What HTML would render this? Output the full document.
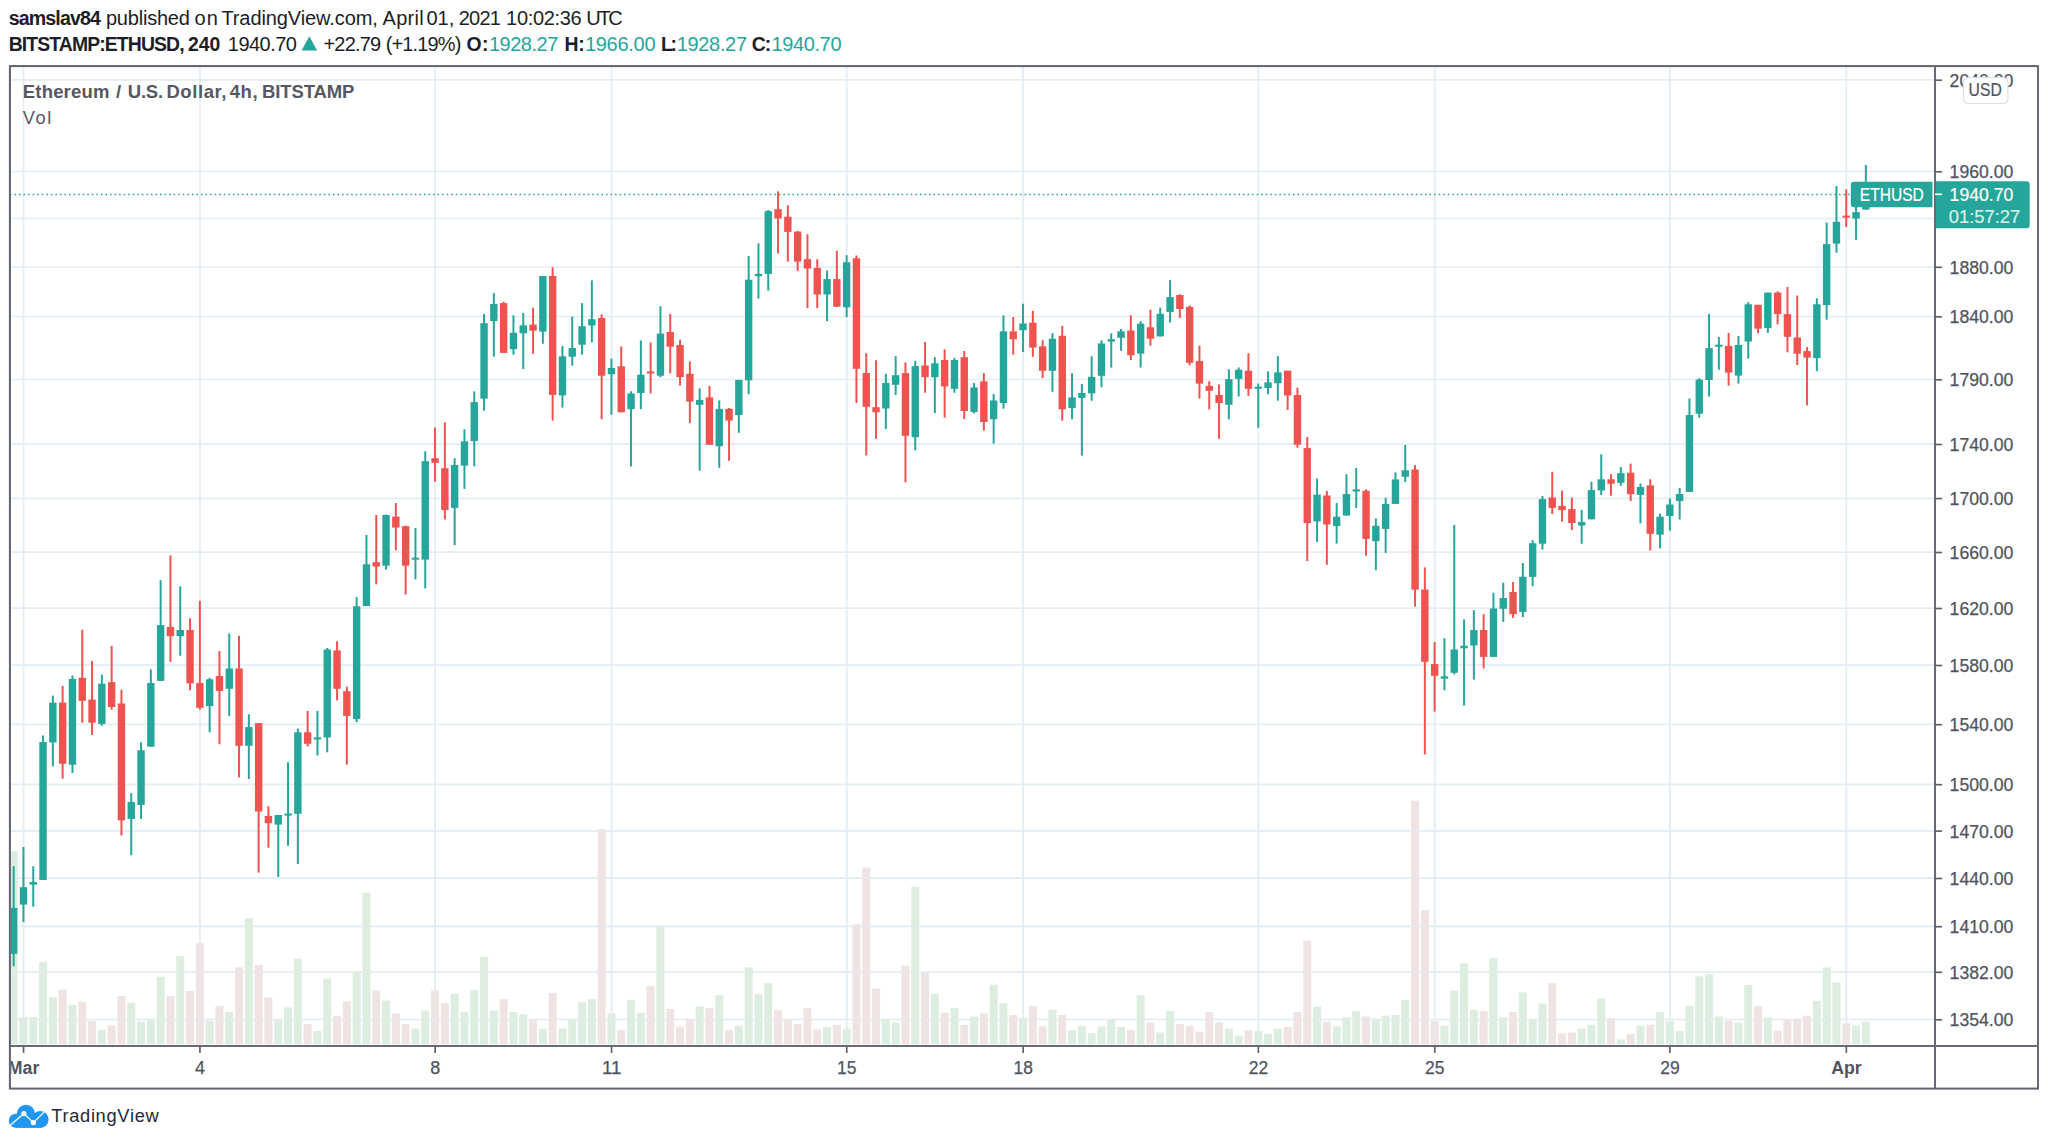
<!DOCTYPE html>
<html><head><meta charset="utf-8"><title>ETHUSD 4h chart</title>
<style>
html,body{margin:0;padding:0;background:#fff;}
body{width:2048px;height:1144px;position:relative;overflow:hidden;font-family:"Liberation Sans",sans-serif;}
</style></head><body>
<svg width="2048" height="1144" viewBox="0 0 2048 1144" font-family="Liberation Sans, sans-serif" style="position:absolute;left:0;top:0">
<defs><clipPath id="pane"><rect x="10.9" y="67.1" width="1923.1" height="977.9"/></clipPath><clipPath id="tclip"><rect x="10.9" y="1046.0" width="1925.1" height="42.59999999999991"/></clipPath></defs>
<g stroke="#e3edf3" stroke-width="1.7" clip-path="url(#pane)">
<line x1="9.9" x2="1935" y1="79.9" y2="79.9"/>
<line x1="9.9" x2="1935" y1="171.5" y2="171.5"/>
<line x1="9.9" x2="1935" y1="218.5" y2="218.5"/>
<line x1="9.9" x2="1935" y1="267" y2="267"/>
<line x1="9.9" x2="1935" y1="316.5" y2="316.5"/>
<line x1="9.9" x2="1935" y1="379.5" y2="379.5"/>
<line x1="9.9" x2="1935" y1="444.2" y2="444.2"/>
<line x1="9.9" x2="1935" y1="498.3" y2="498.3"/>
<line x1="9.9" x2="1935" y1="552.2" y2="552.2"/>
<line x1="9.9" x2="1935" y1="608.2" y2="608.2"/>
<line x1="9.9" x2="1935" y1="665.2" y2="665.2"/>
<line x1="9.9" x2="1935" y1="724.4" y2="724.4"/>
<line x1="9.9" x2="1935" y1="784.4" y2="784.4"/>
<line x1="9.9" x2="1935" y1="830.8" y2="830.8"/>
<line x1="9.9" x2="1935" y1="878.2" y2="878.2"/>
<line x1="9.9" x2="1935" y1="926.4" y2="926.4"/>
<line x1="9.9" x2="1935" y1="972" y2="972"/>
<line x1="9.9" x2="1935" y1="1019.5" y2="1019.5"/>
<line x1="23.55" x2="23.55" y1="66.1" y2="1046.0"/>
<line x1="199.95" x2="199.95" y1="66.1" y2="1046.0"/>
<line x1="435.15" x2="435.15" y1="66.1" y2="1046.0"/>
<line x1="611.55" x2="611.55" y1="66.1" y2="1046.0"/>
<line x1="846.75" x2="846.75" y1="66.1" y2="1046.0"/>
<line x1="1023.15" x2="1023.15" y1="66.1" y2="1046.0"/>
<line x1="1258.35" x2="1258.35" y1="66.1" y2="1046.0"/>
<line x1="1434.75" x2="1434.75" y1="66.1" y2="1046.0"/>
<line x1="1669.95" x2="1669.95" y1="66.1" y2="1046.0"/>
<line x1="1846.35" x2="1846.35" y1="66.1" y2="1046.0"/>
</g>
<g clip-path="url(#pane)">
<rect x="9.65" y="851.0" width="8" height="193.3" fill="#ddede0"/>
<rect x="19.45" y="1017.0" width="8" height="27.3" fill="#ddede0"/>
<rect x="29.25" y="1017.0" width="8" height="27.3" fill="#ddede0"/>
<rect x="39.05" y="961.7" width="8" height="82.6" fill="#ddede0"/>
<rect x="48.85" y="997.2" width="8" height="47.1" fill="#ddede0"/>
<rect x="58.65" y="989.9" width="8" height="54.4" fill="#f0e3e3"/>
<rect x="68.45" y="1004.8" width="8" height="39.5" fill="#ddede0"/>
<rect x="78.25" y="1001.8" width="8" height="42.5" fill="#f0e3e3"/>
<rect x="88.05" y="1021.1" width="8" height="23.2" fill="#f0e3e3"/>
<rect x="97.85" y="1029.9" width="8" height="14.4" fill="#ddede0"/>
<rect x="107.65" y="1025.3" width="8" height="19.0" fill="#f0e3e3"/>
<rect x="117.45" y="996.0" width="8" height="48.3" fill="#f0e3e3"/>
<rect x="127.25" y="1002.8" width="8" height="41.5" fill="#ddede0"/>
<rect x="137.05" y="1021.7" width="8" height="22.6" fill="#ddede0"/>
<rect x="146.85" y="1018.9" width="8" height="25.4" fill="#ddede0"/>
<rect x="156.65" y="976.7" width="8" height="67.6" fill="#ddede0"/>
<rect x="166.45" y="996.0" width="8" height="48.3" fill="#f0e3e3"/>
<rect x="176.25" y="956.1" width="8" height="88.2" fill="#ddede0"/>
<rect x="186.05" y="991.0" width="8" height="53.3" fill="#f0e3e3"/>
<rect x="195.85" y="942.8" width="8" height="101.5" fill="#f0e3e3"/>
<rect x="205.65" y="1020.7" width="8" height="23.6" fill="#ddede0"/>
<rect x="215.45" y="1005.9" width="8" height="38.4" fill="#f0e3e3"/>
<rect x="225.25" y="1012.0" width="8" height="32.3" fill="#ddede0"/>
<rect x="235.05" y="967.3" width="8" height="77.0" fill="#f0e3e3"/>
<rect x="244.85" y="918.4" width="8" height="125.9" fill="#ddede0"/>
<rect x="254.65" y="965.0" width="8" height="79.3" fill="#f0e3e3"/>
<rect x="264.45" y="997.5" width="8" height="46.8" fill="#f0e3e3"/>
<rect x="274.25" y="1019.5" width="8" height="24.8" fill="#ddede0"/>
<rect x="284.05" y="1007.5" width="8" height="36.8" fill="#ddede0"/>
<rect x="293.85" y="958.9" width="8" height="85.4" fill="#ddede0"/>
<rect x="303.65" y="1024.1" width="8" height="20.2" fill="#f0e3e3"/>
<rect x="313.45" y="1030.9" width="8" height="13.4" fill="#ddede0"/>
<rect x="323.25" y="978.6" width="8" height="65.7" fill="#ddede0"/>
<rect x="333.05" y="1015.7" width="8" height="28.6" fill="#f0e3e3"/>
<rect x="342.85" y="1001.4" width="8" height="42.9" fill="#f0e3e3"/>
<rect x="352.65" y="971.1" width="8" height="73.2" fill="#ddede0"/>
<rect x="362.45" y="892.7" width="8" height="151.6" fill="#ddede0"/>
<rect x="372.25" y="990.5" width="8" height="53.8" fill="#f0e3e3"/>
<rect x="382.05" y="1000.7" width="8" height="43.6" fill="#ddede0"/>
<rect x="391.85" y="1013.4" width="8" height="30.9" fill="#f0e3e3"/>
<rect x="401.65" y="1024.1" width="8" height="20.2" fill="#f0e3e3"/>
<rect x="411.45" y="1028.6" width="8" height="15.7" fill="#ddede0"/>
<rect x="421.25" y="1010.5" width="8" height="33.8" fill="#ddede0"/>
<rect x="431.05" y="990.5" width="8" height="53.8" fill="#f0e3e3"/>
<rect x="440.85" y="1003.0" width="8" height="41.3" fill="#f0e3e3"/>
<rect x="450.65" y="993.9" width="8" height="50.4" fill="#ddede0"/>
<rect x="460.45" y="1012.0" width="8" height="32.3" fill="#ddede0"/>
<rect x="470.25" y="990.0" width="8" height="54.3" fill="#ddede0"/>
<rect x="480.05" y="957.0" width="8" height="87.3" fill="#ddede0"/>
<rect x="489.85" y="1010.5" width="8" height="33.8" fill="#ddede0"/>
<rect x="499.65" y="999.1" width="8" height="45.2" fill="#f0e3e3"/>
<rect x="509.45" y="1012.0" width="8" height="32.3" fill="#ddede0"/>
<rect x="519.25" y="1014.3" width="8" height="30.0" fill="#ddede0"/>
<rect x="529.05" y="1020.0" width="8" height="24.3" fill="#f0e3e3"/>
<rect x="538.85" y="1028.6" width="8" height="15.7" fill="#ddede0"/>
<rect x="548.65" y="993.0" width="8" height="51.3" fill="#f0e3e3"/>
<rect x="558.45" y="1028.6" width="8" height="15.7" fill="#ddede0"/>
<rect x="568.25" y="1018.9" width="8" height="25.4" fill="#ddede0"/>
<rect x="578.05" y="1002.0" width="8" height="42.3" fill="#ddede0"/>
<rect x="587.85" y="999.1" width="8" height="45.2" fill="#ddede0"/>
<rect x="597.65" y="829.1" width="8" height="215.2" fill="#f0e3e3"/>
<rect x="607.45" y="1013.4" width="8" height="30.9" fill="#ddede0"/>
<rect x="617.25" y="1030.2" width="8" height="14.1" fill="#f0e3e3"/>
<rect x="627.05" y="999.8" width="8" height="44.5" fill="#ddede0"/>
<rect x="636.85" y="1012.7" width="8" height="31.6" fill="#ddede0"/>
<rect x="646.65" y="986.1" width="8" height="58.2" fill="#f0e3e3"/>
<rect x="656.45" y="925.7" width="8" height="118.6" fill="#ddede0"/>
<rect x="666.25" y="1008.9" width="8" height="35.4" fill="#f0e3e3"/>
<rect x="676.05" y="1026.4" width="8" height="17.9" fill="#f0e3e3"/>
<rect x="685.85" y="1018.9" width="8" height="25.4" fill="#f0e3e3"/>
<rect x="695.65" y="1006.6" width="8" height="37.7" fill="#ddede0"/>
<rect x="705.45" y="1008.2" width="8" height="36.1" fill="#f0e3e3"/>
<rect x="715.25" y="995.2" width="8" height="49.1" fill="#ddede0"/>
<rect x="725.05" y="1030.2" width="8" height="14.1" fill="#f0e3e3"/>
<rect x="734.85" y="1025.7" width="8" height="18.6" fill="#ddede0"/>
<rect x="744.65" y="967.3" width="8" height="77.0" fill="#ddede0"/>
<rect x="754.45" y="993.9" width="8" height="50.4" fill="#ddede0"/>
<rect x="764.25" y="983.2" width="8" height="61.1" fill="#ddede0"/>
<rect x="774.05" y="1009.8" width="8" height="34.5" fill="#f0e3e3"/>
<rect x="783.85" y="1020.0" width="8" height="24.3" fill="#f0e3e3"/>
<rect x="793.65" y="1024.1" width="8" height="20.2" fill="#f0e3e3"/>
<rect x="803.45" y="1008.2" width="8" height="36.1" fill="#f0e3e3"/>
<rect x="813.25" y="1029.3" width="8" height="15.0" fill="#f0e3e3"/>
<rect x="823.05" y="1027.0" width="8" height="17.3" fill="#ddede0"/>
<rect x="832.85" y="1024.8" width="8" height="19.5" fill="#f0e3e3"/>
<rect x="842.65" y="1028.6" width="8" height="15.7" fill="#ddede0"/>
<rect x="852.45" y="924.1" width="8" height="120.2" fill="#f0e3e3"/>
<rect x="862.25" y="867.7" width="8" height="176.6" fill="#f0e3e3"/>
<rect x="872.05" y="988.4" width="8" height="55.9" fill="#f0e3e3"/>
<rect x="881.85" y="1018.9" width="8" height="25.4" fill="#ddede0"/>
<rect x="891.65" y="1022.5" width="8" height="21.8" fill="#ddede0"/>
<rect x="901.45" y="965.7" width="8" height="78.6" fill="#f0e3e3"/>
<rect x="911.25" y="886.6" width="8" height="157.7" fill="#ddede0"/>
<rect x="921.05" y="973.0" width="8" height="71.3" fill="#f0e3e3"/>
<rect x="930.85" y="993.9" width="8" height="50.4" fill="#ddede0"/>
<rect x="940.65" y="1012.7" width="8" height="31.6" fill="#f0e3e3"/>
<rect x="950.45" y="1008.2" width="8" height="36.1" fill="#ddede0"/>
<rect x="960.25" y="1024.8" width="8" height="19.5" fill="#f0e3e3"/>
<rect x="970.05" y="1016.6" width="8" height="27.7" fill="#ddede0"/>
<rect x="979.85" y="1013.4" width="8" height="30.9" fill="#f0e3e3"/>
<rect x="989.65" y="984.8" width="8" height="59.5" fill="#ddede0"/>
<rect x="999.45" y="1003.0" width="8" height="41.3" fill="#ddede0"/>
<rect x="1009.25" y="1015.0" width="8" height="29.3" fill="#f0e3e3"/>
<rect x="1019.05" y="1018.0" width="8" height="26.3" fill="#ddede0"/>
<rect x="1028.85" y="1005.9" width="8" height="38.4" fill="#f0e3e3"/>
<rect x="1038.65" y="1026.4" width="8" height="17.9" fill="#f0e3e3"/>
<rect x="1048.45" y="1009.8" width="8" height="34.5" fill="#ddede0"/>
<rect x="1058.25" y="1015.0" width="8" height="29.3" fill="#f0e3e3"/>
<rect x="1068.05" y="1030.2" width="8" height="14.1" fill="#ddede0"/>
<rect x="1077.85" y="1025.7" width="8" height="18.6" fill="#ddede0"/>
<rect x="1087.65" y="1033.2" width="8" height="11.1" fill="#ddede0"/>
<rect x="1097.45" y="1026.4" width="8" height="17.9" fill="#ddede0"/>
<rect x="1107.25" y="1019.5" width="8" height="24.8" fill="#ddede0"/>
<rect x="1117.05" y="1027.0" width="8" height="17.3" fill="#ddede0"/>
<rect x="1126.85" y="1030.2" width="8" height="14.1" fill="#f0e3e3"/>
<rect x="1136.65" y="995.2" width="8" height="49.1" fill="#ddede0"/>
<rect x="1146.45" y="1022.5" width="8" height="21.8" fill="#f0e3e3"/>
<rect x="1156.25" y="1032.5" width="8" height="11.8" fill="#ddede0"/>
<rect x="1166.05" y="1011.1" width="8" height="33.2" fill="#ddede0"/>
<rect x="1175.85" y="1024.1" width="8" height="20.2" fill="#f0e3e3"/>
<rect x="1185.65" y="1025.7" width="8" height="18.6" fill="#f0e3e3"/>
<rect x="1195.45" y="1031.6" width="8" height="12.7" fill="#f0e3e3"/>
<rect x="1205.25" y="1012.0" width="8" height="32.3" fill="#f0e3e3"/>
<rect x="1215.05" y="1022.5" width="8" height="21.8" fill="#f0e3e3"/>
<rect x="1224.85" y="1028.6" width="8" height="15.7" fill="#ddede0"/>
<rect x="1234.65" y="1035.5" width="8" height="8.8" fill="#ddede0"/>
<rect x="1244.45" y="1030.2" width="8" height="14.1" fill="#f0e3e3"/>
<rect x="1254.25" y="1030.9" width="8" height="13.4" fill="#ddede0"/>
<rect x="1264.05" y="1033.9" width="8" height="10.4" fill="#ddede0"/>
<rect x="1273.85" y="1028.6" width="8" height="15.7" fill="#ddede0"/>
<rect x="1283.65" y="1027.0" width="8" height="17.3" fill="#f0e3e3"/>
<rect x="1293.45" y="1012.0" width="8" height="32.3" fill="#f0e3e3"/>
<rect x="1303.25" y="940.5" width="8" height="103.8" fill="#f0e3e3"/>
<rect x="1313.05" y="1006.6" width="8" height="37.7" fill="#ddede0"/>
<rect x="1322.85" y="1021.8" width="8" height="22.5" fill="#f0e3e3"/>
<rect x="1332.65" y="1026.4" width="8" height="17.9" fill="#ddede0"/>
<rect x="1342.45" y="1017.3" width="8" height="27.0" fill="#ddede0"/>
<rect x="1352.25" y="1011.1" width="8" height="33.2" fill="#ddede0"/>
<rect x="1362.05" y="1016.6" width="8" height="27.7" fill="#f0e3e3"/>
<rect x="1371.85" y="1018.9" width="8" height="25.4" fill="#ddede0"/>
<rect x="1381.65" y="1015.7" width="8" height="28.6" fill="#ddede0"/>
<rect x="1391.45" y="1015.0" width="8" height="29.3" fill="#ddede0"/>
<rect x="1401.25" y="999.8" width="8" height="44.5" fill="#ddede0"/>
<rect x="1411.05" y="800.7" width="8" height="243.6" fill="#f0e3e3"/>
<rect x="1420.85" y="910.0" width="8" height="134.3" fill="#f0e3e3"/>
<rect x="1430.65" y="1021.1" width="8" height="23.2" fill="#f0e3e3"/>
<rect x="1440.45" y="1025.7" width="8" height="18.6" fill="#ddede0"/>
<rect x="1450.25" y="990.7" width="8" height="53.6" fill="#ddede0"/>
<rect x="1460.05" y="963.4" width="8" height="80.9" fill="#ddede0"/>
<rect x="1469.85" y="1009.8" width="8" height="34.5" fill="#ddede0"/>
<rect x="1479.65" y="1011.1" width="8" height="33.2" fill="#f0e3e3"/>
<rect x="1489.45" y="958.2" width="8" height="86.1" fill="#ddede0"/>
<rect x="1499.25" y="1017.3" width="8" height="27.0" fill="#ddede0"/>
<rect x="1509.05" y="1012.0" width="8" height="32.3" fill="#f0e3e3"/>
<rect x="1518.85" y="992.3" width="8" height="52.0" fill="#ddede0"/>
<rect x="1528.65" y="1019.5" width="8" height="24.8" fill="#ddede0"/>
<rect x="1538.45" y="1003.6" width="8" height="40.7" fill="#ddede0"/>
<rect x="1548.25" y="983.2" width="8" height="61.1" fill="#f0e3e3"/>
<rect x="1558.05" y="1033.2" width="8" height="11.1" fill="#f0e3e3"/>
<rect x="1567.85" y="1032.5" width="8" height="11.8" fill="#f0e3e3"/>
<rect x="1577.65" y="1028.6" width="8" height="15.7" fill="#ddede0"/>
<rect x="1587.45" y="1024.8" width="8" height="19.5" fill="#ddede0"/>
<rect x="1597.25" y="998.4" width="8" height="45.9" fill="#ddede0"/>
<rect x="1607.05" y="1018.0" width="8" height="26.3" fill="#f0e3e3"/>
<rect x="1616.85" y="1039.3" width="8" height="5.0" fill="#ddede0"/>
<rect x="1626.65" y="1033.9" width="8" height="10.4" fill="#f0e3e3"/>
<rect x="1636.45" y="1025.7" width="8" height="18.6" fill="#ddede0"/>
<rect x="1646.25" y="1024.8" width="8" height="19.5" fill="#f0e3e3"/>
<rect x="1656.05" y="1012.0" width="8" height="32.3" fill="#ddede0"/>
<rect x="1665.85" y="1021.1" width="8" height="23.2" fill="#ddede0"/>
<rect x="1675.65" y="1030.9" width="8" height="13.4" fill="#ddede0"/>
<rect x="1685.45" y="1005.9" width="8" height="38.4" fill="#ddede0"/>
<rect x="1695.25" y="976.4" width="8" height="67.9" fill="#ddede0"/>
<rect x="1705.05" y="974.1" width="8" height="70.2" fill="#ddede0"/>
<rect x="1714.85" y="1016.6" width="8" height="27.7" fill="#ddede0"/>
<rect x="1724.65" y="1020.7" width="8" height="23.6" fill="#f0e3e3"/>
<rect x="1734.45" y="1022.5" width="8" height="21.8" fill="#ddede0"/>
<rect x="1744.25" y="985.0" width="8" height="59.3" fill="#ddede0"/>
<rect x="1754.05" y="1005.9" width="8" height="38.4" fill="#f0e3e3"/>
<rect x="1763.85" y="1017.3" width="8" height="27.0" fill="#ddede0"/>
<rect x="1773.65" y="1030.9" width="8" height="13.4" fill="#f0e3e3"/>
<rect x="1783.45" y="1020.0" width="8" height="24.3" fill="#f0e3e3"/>
<rect x="1793.25" y="1018.9" width="8" height="25.4" fill="#f0e3e3"/>
<rect x="1803.05" y="1015.7" width="8" height="28.6" fill="#f0e3e3"/>
<rect x="1812.85" y="1000.7" width="8" height="43.6" fill="#ddede0"/>
<rect x="1822.65" y="967.3" width="8" height="77.0" fill="#ddede0"/>
<rect x="1832.45" y="982.5" width="8" height="61.8" fill="#ddede0"/>
<rect x="1842.25" y="1023.4" width="8" height="20.9" fill="#f0e3e3"/>
<rect x="1852.05" y="1025.7" width="8" height="18.6" fill="#ddede0"/>
<rect x="1861.85" y="1021.8" width="8" height="22.5" fill="#ddede0"/>
</g>
<g stroke="#e3edf3" stroke-width="1.7" clip-path="url(#pane)" opacity="0.45">
<line x1="9.9" x2="1935" y1="830.8" y2="830.8"/>
<line x1="9.9" x2="1935" y1="878.2" y2="878.2"/>
<line x1="9.9" x2="1935" y1="926.4" y2="926.4"/>
<line x1="9.9" x2="1935" y1="972" y2="972"/>
<line x1="9.9" x2="1935" y1="1019.5" y2="1019.5"/>
<line x1="23.55" x2="23.55" y1="790" y2="1046.0"/>
<line x1="199.95" x2="199.95" y1="790" y2="1046.0"/>
<line x1="435.15" x2="435.15" y1="790" y2="1046.0"/>
<line x1="611.55" x2="611.55" y1="790" y2="1046.0"/>
<line x1="846.75" x2="846.75" y1="790" y2="1046.0"/>
<line x1="1023.15" x2="1023.15" y1="790" y2="1046.0"/>
<line x1="1258.35" x2="1258.35" y1="790" y2="1046.0"/>
<line x1="1434.75" x2="1434.75" y1="790" y2="1046.0"/>
<line x1="1669.95" x2="1669.95" y1="790" y2="1046.0"/>
<line x1="1846.35" x2="1846.35" y1="790" y2="1046.0"/>
</g>
<line x1="9.9" x2="1935" y1="194.5" y2="194.5" stroke="#26a69a" stroke-width="1.6" stroke-dasharray="1.55 3.0" clip-path="url(#pane)"/>
<g clip-path="url(#pane)">
<rect x="12.65" y="866.2" width="2" height="100.0" fill="#26a69a"/>
<rect x="9.95" y="907.9" width="7.4" height="45.9" fill="#26a69a"/>
<rect x="22.45" y="847.0" width="2" height="75.0" fill="#26a69a"/>
<rect x="19.75" y="887.2" width="7.4" height="17.4" fill="#26a69a"/>
<rect x="32.25" y="866.2" width="2" height="40.4" fill="#26a69a"/>
<rect x="29.55" y="882.0" width="7.4" height="2.6" fill="#26a69a"/>
<rect x="42.05" y="735.5" width="2" height="144.5" fill="#26a69a"/>
<rect x="39.35" y="742.0" width="7.4" height="138.0" fill="#26a69a"/>
<rect x="51.85" y="695.6" width="2" height="70.8" fill="#26a69a"/>
<rect x="49.15" y="702.6" width="7.4" height="39.9" fill="#26a69a"/>
<rect x="61.65" y="686.0" width="2" height="92.7" fill="#ef5350"/>
<rect x="58.95" y="702.6" width="7.4" height="61.2" fill="#ef5350"/>
<rect x="71.45" y="675.5" width="2" height="97.5" fill="#26a69a"/>
<rect x="68.75" y="679.0" width="7.4" height="85.7" fill="#26a69a"/>
<rect x="81.25" y="629.7" width="2" height="93.0" fill="#ef5350"/>
<rect x="78.55" y="677.8" width="7.4" height="23.0" fill="#ef5350"/>
<rect x="91.05" y="661.0" width="2" height="74.0" fill="#ef5350"/>
<rect x="88.35" y="699.6" width="7.4" height="23.1" fill="#ef5350"/>
<rect x="100.85" y="674.6" width="2" height="51.1" fill="#26a69a"/>
<rect x="98.15" y="683.7" width="7.4" height="40.2" fill="#26a69a"/>
<rect x="110.65" y="645.8" width="2" height="63.8" fill="#ef5350"/>
<rect x="107.95" y="682.1" width="7.4" height="24.9" fill="#ef5350"/>
<rect x="120.45" y="689.8" width="2" height="145.7" fill="#ef5350"/>
<rect x="117.75" y="703.5" width="7.4" height="116.8" fill="#ef5350"/>
<rect x="130.25" y="793.2" width="2" height="62.0" fill="#26a69a"/>
<rect x="127.55" y="801.9" width="7.4" height="17.0" fill="#26a69a"/>
<rect x="140.05" y="742.3" width="2" height="76.6" fill="#26a69a"/>
<rect x="137.35" y="750.3" width="7.4" height="54.6" fill="#26a69a"/>
<rect x="149.85" y="669.4" width="2" height="77.3" fill="#26a69a"/>
<rect x="147.15" y="683.0" width="7.4" height="63.7" fill="#26a69a"/>
<rect x="159.65" y="580.2" width="2" height="100.7" fill="#26a69a"/>
<rect x="156.95" y="625.1" width="7.4" height="55.8" fill="#26a69a"/>
<rect x="169.45" y="555.4" width="2" height="106.6" fill="#ef5350"/>
<rect x="166.75" y="626.9" width="7.4" height="9.3" fill="#ef5350"/>
<rect x="179.25" y="586.3" width="2" height="69.4" fill="#26a69a"/>
<rect x="176.55" y="630.0" width="7.4" height="6.2" fill="#26a69a"/>
<rect x="189.05" y="618.3" width="2" height="72.0" fill="#ef5350"/>
<rect x="186.35" y="630.0" width="7.4" height="53.4" fill="#ef5350"/>
<rect x="198.85" y="600.8" width="2" height="108.8" fill="#ef5350"/>
<rect x="196.15" y="683.0" width="7.4" height="24.8" fill="#ef5350"/>
<rect x="208.65" y="677.8" width="2" height="54.5" fill="#26a69a"/>
<rect x="205.95" y="679.3" width="7.4" height="26.8" fill="#26a69a"/>
<rect x="218.45" y="651.0" width="2" height="93.2" fill="#ef5350"/>
<rect x="215.75" y="676.0" width="7.4" height="14.9" fill="#ef5350"/>
<rect x="228.25" y="633.5" width="2" height="82.5" fill="#26a69a"/>
<rect x="225.55" y="668.5" width="7.4" height="20.3" fill="#26a69a"/>
<rect x="238.05" y="635.8" width="2" height="141.6" fill="#ef5350"/>
<rect x="235.35" y="668.5" width="7.4" height="77.3" fill="#ef5350"/>
<rect x="247.85" y="714.3" width="2" height="64.7" fill="#26a69a"/>
<rect x="245.15" y="727.1" width="7.4" height="18.7" fill="#26a69a"/>
<rect x="257.65" y="723.1" width="2" height="149.5" fill="#ef5350"/>
<rect x="254.95" y="723.1" width="7.4" height="88.4" fill="#ef5350"/>
<rect x="267.45" y="806.2" width="2" height="41.4" fill="#ef5350"/>
<rect x="264.75" y="815.9" width="7.4" height="7.3" fill="#ef5350"/>
<rect x="277.25" y="815.0" width="2" height="62.0" fill="#26a69a"/>
<rect x="274.55" y="815.0" width="7.4" height="9.6" fill="#26a69a"/>
<rect x="287.05" y="762.1" width="2" height="83.7" fill="#26a69a"/>
<rect x="284.35" y="813.5" width="7.4" height="2.1" fill="#26a69a"/>
<rect x="296.85" y="728.6" width="2" height="135.5" fill="#26a69a"/>
<rect x="294.15" y="732.3" width="7.4" height="81.5" fill="#26a69a"/>
<rect x="306.65" y="711.0" width="2" height="35.5" fill="#ef5350"/>
<rect x="303.95" y="732.3" width="7.4" height="11.5" fill="#ef5350"/>
<rect x="316.45" y="710.9" width="2" height="44.6" fill="#26a69a"/>
<rect x="313.75" y="737.4" width="7.4" height="2.1" fill="#26a69a"/>
<rect x="326.25" y="648.0" width="2" height="104.3" fill="#26a69a"/>
<rect x="323.55" y="649.5" width="7.4" height="87.9" fill="#26a69a"/>
<rect x="336.05" y="641.3" width="2" height="59.1" fill="#ef5350"/>
<rect x="333.35" y="650.4" width="7.4" height="38.4" fill="#ef5350"/>
<rect x="345.85" y="686.7" width="2" height="77.9" fill="#ef5350"/>
<rect x="343.15" y="691.2" width="7.4" height="24.7" fill="#ef5350"/>
<rect x="355.65" y="597.1" width="2" height="125.1" fill="#26a69a"/>
<rect x="352.95" y="606.3" width="7.4" height="112.8" fill="#26a69a"/>
<rect x="365.45" y="535.0" width="2" height="71.0" fill="#26a69a"/>
<rect x="362.75" y="564.3" width="7.4" height="41.7" fill="#26a69a"/>
<rect x="375.25" y="515.0" width="2" height="69.4" fill="#ef5350"/>
<rect x="372.55" y="562.2" width="7.4" height="4.4" fill="#ef5350"/>
<rect x="385.05" y="514.5" width="2" height="55.1" fill="#26a69a"/>
<rect x="382.35" y="515.0" width="7.4" height="50.7" fill="#26a69a"/>
<rect x="394.85" y="503.1" width="2" height="47.2" fill="#ef5350"/>
<rect x="392.15" y="516.6" width="7.4" height="11.0" fill="#ef5350"/>
<rect x="404.65" y="525.5" width="2" height="69.0" fill="#ef5350"/>
<rect x="401.95" y="526.2" width="7.4" height="39.5" fill="#ef5350"/>
<rect x="414.45" y="528.1" width="2" height="51.3" fill="#26a69a"/>
<rect x="411.75" y="557.7" width="7.4" height="2.0" fill="#26a69a"/>
<rect x="424.25" y="451.2" width="2" height="137.2" fill="#26a69a"/>
<rect x="421.55" y="461.2" width="7.4" height="98.4" fill="#26a69a"/>
<rect x="434.05" y="427.6" width="2" height="54.2" fill="#ef5350"/>
<rect x="431.35" y="458.2" width="7.4" height="4.7" fill="#ef5350"/>
<rect x="443.85" y="422.4" width="2" height="97.0" fill="#ef5350"/>
<rect x="441.15" y="468.2" width="7.4" height="41.9" fill="#ef5350"/>
<rect x="453.65" y="458.2" width="2" height="86.9" fill="#26a69a"/>
<rect x="450.95" y="465.0" width="7.4" height="42.9" fill="#26a69a"/>
<rect x="463.45" y="429.2" width="2" height="59.6" fill="#26a69a"/>
<rect x="460.75" y="441.4" width="7.4" height="24.2" fill="#26a69a"/>
<rect x="473.25" y="391.4" width="2" height="75.0" fill="#26a69a"/>
<rect x="470.55" y="402.1" width="7.4" height="38.9" fill="#26a69a"/>
<rect x="483.05" y="313.9" width="2" height="96.8" fill="#26a69a"/>
<rect x="480.35" y="323.2" width="7.4" height="75.5" fill="#26a69a"/>
<rect x="492.85" y="293.1" width="2" height="63.6" fill="#26a69a"/>
<rect x="490.15" y="304.0" width="7.4" height="17.1" fill="#26a69a"/>
<rect x="502.65" y="301.7" width="2" height="51.2" fill="#ef5350"/>
<rect x="499.95" y="303.1" width="7.4" height="49.8" fill="#ef5350"/>
<rect x="512.45" y="315.3" width="2" height="39.4" fill="#26a69a"/>
<rect x="509.75" y="332.8" width="7.4" height="16.3" fill="#26a69a"/>
<rect x="522.25" y="313.0" width="2" height="56.0" fill="#26a69a"/>
<rect x="519.55" y="325.3" width="7.4" height="8.0" fill="#26a69a"/>
<rect x="532.05" y="307.8" width="2" height="46.0" fill="#ef5350"/>
<rect x="529.35" y="324.6" width="7.4" height="6.1" fill="#ef5350"/>
<rect x="541.85" y="276.0" width="2" height="67.8" fill="#26a69a"/>
<rect x="539.15" y="276.0" width="7.4" height="55.6" fill="#26a69a"/>
<rect x="551.65" y="267.2" width="2" height="153.4" fill="#ef5350"/>
<rect x="548.95" y="276.0" width="7.4" height="118.9" fill="#ef5350"/>
<rect x="561.45" y="345.9" width="2" height="61.7" fill="#26a69a"/>
<rect x="558.75" y="356.4" width="7.4" height="39.0" fill="#26a69a"/>
<rect x="571.25" y="316.7" width="2" height="49.0" fill="#26a69a"/>
<rect x="568.55" y="348.0" width="7.4" height="8.7" fill="#26a69a"/>
<rect x="581.05" y="303.1" width="2" height="51.6" fill="#26a69a"/>
<rect x="578.35" y="326.2" width="7.4" height="18.5" fill="#26a69a"/>
<rect x="590.85" y="280.3" width="2" height="62.1" fill="#26a69a"/>
<rect x="588.15" y="319.2" width="7.4" height="6.3" fill="#26a69a"/>
<rect x="600.65" y="314.4" width="2" height="104.9" fill="#ef5350"/>
<rect x="597.95" y="317.9" width="7.4" height="57.8" fill="#ef5350"/>
<rect x="610.45" y="358.6" width="2" height="56.1" fill="#26a69a"/>
<rect x="607.75" y="368.0" width="7.4" height="6.2" fill="#26a69a"/>
<rect x="620.25" y="346.4" width="2" height="65.9" fill="#ef5350"/>
<rect x="617.55" y="366.3" width="7.4" height="46.0" fill="#ef5350"/>
<rect x="630.05" y="391.3" width="2" height="75.1" fill="#26a69a"/>
<rect x="627.35" y="393.5" width="7.4" height="15.7" fill="#26a69a"/>
<rect x="639.85" y="340.4" width="2" height="68.8" fill="#26a69a"/>
<rect x="637.15" y="374.7" width="7.4" height="18.3" fill="#26a69a"/>
<rect x="649.65" y="342.5" width="2" height="50.9" fill="#ef5350"/>
<rect x="646.95" y="371.5" width="7.4" height="2.0" fill="#ef5350"/>
<rect x="659.45" y="306.2" width="2" height="71.1" fill="#26a69a"/>
<rect x="656.75" y="333.6" width="7.4" height="42.1" fill="#26a69a"/>
<rect x="669.25" y="313.9" width="2" height="59.5" fill="#ef5350"/>
<rect x="666.55" y="332.0" width="7.4" height="14.7" fill="#ef5350"/>
<rect x="679.05" y="339.7" width="2" height="45.9" fill="#ef5350"/>
<rect x="676.35" y="345.0" width="7.4" height="32.1" fill="#ef5350"/>
<rect x="688.85" y="361.5" width="2" height="61.4" fill="#ef5350"/>
<rect x="686.15" y="373.8" width="7.4" height="27.8" fill="#ef5350"/>
<rect x="698.65" y="388.3" width="2" height="82.4" fill="#26a69a"/>
<rect x="695.95" y="399.9" width="7.4" height="4.9" fill="#26a69a"/>
<rect x="708.45" y="386.0" width="2" height="58.8" fill="#ef5350"/>
<rect x="705.75" y="397.4" width="7.4" height="47.4" fill="#ef5350"/>
<rect x="718.25" y="400.4" width="2" height="67.4" fill="#26a69a"/>
<rect x="715.55" y="408.9" width="7.4" height="37.3" fill="#26a69a"/>
<rect x="728.05" y="408.0" width="2" height="52.8" fill="#ef5350"/>
<rect x="725.35" y="408.8" width="7.4" height="11.8" fill="#ef5350"/>
<rect x="737.85" y="379.9" width="2" height="52.9" fill="#26a69a"/>
<rect x="735.15" y="379.9" width="7.4" height="35.1" fill="#26a69a"/>
<rect x="747.65" y="256.0" width="2" height="138.2" fill="#26a69a"/>
<rect x="744.95" y="279.7" width="7.4" height="100.6" fill="#26a69a"/>
<rect x="757.45" y="243.3" width="2" height="55.2" fill="#26a69a"/>
<rect x="754.75" y="273.9" width="7.4" height="2.3" fill="#26a69a"/>
<rect x="767.25" y="210.0" width="2" height="80.7" fill="#26a69a"/>
<rect x="764.55" y="211.1" width="7.4" height="62.8" fill="#26a69a"/>
<rect x="777.05" y="191.4" width="2" height="62.0" fill="#ef5350"/>
<rect x="774.35" y="209.2" width="7.4" height="9.3" fill="#ef5350"/>
<rect x="786.85" y="205.3" width="2" height="56.3" fill="#ef5350"/>
<rect x="784.15" y="216.7" width="7.4" height="15.2" fill="#ef5350"/>
<rect x="796.65" y="231.0" width="2" height="39.9" fill="#ef5350"/>
<rect x="793.95" y="231.6" width="7.4" height="30.0" fill="#ef5350"/>
<rect x="806.45" y="234.2" width="2" height="73.9" fill="#ef5350"/>
<rect x="803.75" y="259.2" width="7.4" height="9.4" fill="#ef5350"/>
<rect x="816.25" y="259.2" width="2" height="48.9" fill="#ef5350"/>
<rect x="813.55" y="267.9" width="7.4" height="26.6" fill="#ef5350"/>
<rect x="826.05" y="270.6" width="2" height="50.5" fill="#26a69a"/>
<rect x="823.35" y="279.1" width="7.4" height="15.4" fill="#26a69a"/>
<rect x="835.85" y="250.8" width="2" height="56.2" fill="#ef5350"/>
<rect x="833.15" y="279.1" width="7.4" height="27.6" fill="#ef5350"/>
<rect x="845.65" y="255.2" width="2" height="62.0" fill="#26a69a"/>
<rect x="842.95" y="262.2" width="7.4" height="45.1" fill="#26a69a"/>
<rect x="855.45" y="255.5" width="2" height="147.6" fill="#ef5350"/>
<rect x="852.75" y="258.3" width="7.4" height="110.5" fill="#ef5350"/>
<rect x="865.25" y="353.2" width="2" height="102.3" fill="#ef5350"/>
<rect x="862.55" y="373.0" width="7.4" height="33.8" fill="#ef5350"/>
<rect x="875.05" y="360.2" width="2" height="78.6" fill="#ef5350"/>
<rect x="872.35" y="407.2" width="7.4" height="5.1" fill="#ef5350"/>
<rect x="884.85" y="373.8" width="2" height="55.2" fill="#26a69a"/>
<rect x="882.15" y="383.0" width="7.4" height="25.5" fill="#26a69a"/>
<rect x="894.65" y="356.2" width="2" height="38.8" fill="#26a69a"/>
<rect x="891.95" y="375.2" width="7.4" height="9.6" fill="#26a69a"/>
<rect x="904.45" y="362.4" width="2" height="119.8" fill="#ef5350"/>
<rect x="901.75" y="373.1" width="7.4" height="62.7" fill="#ef5350"/>
<rect x="914.25" y="360.8" width="2" height="89.5" fill="#26a69a"/>
<rect x="911.55" y="366.1" width="7.4" height="71.1" fill="#26a69a"/>
<rect x="924.05" y="342.0" width="2" height="50.7" fill="#ef5350"/>
<rect x="921.35" y="365.5" width="7.4" height="11.7" fill="#ef5350"/>
<rect x="933.85" y="357.2" width="2" height="55.9" fill="#26a69a"/>
<rect x="931.15" y="363.3" width="7.4" height="14.0" fill="#26a69a"/>
<rect x="943.65" y="349.4" width="2" height="68.3" fill="#ef5350"/>
<rect x="940.95" y="360.0" width="7.4" height="26.5" fill="#ef5350"/>
<rect x="953.45" y="357.8" width="2" height="34.9" fill="#26a69a"/>
<rect x="950.75" y="360.0" width="7.4" height="28.8" fill="#26a69a"/>
<rect x="963.25" y="351.0" width="2" height="68.2" fill="#ef5350"/>
<rect x="960.55" y="357.2" width="7.4" height="53.8" fill="#ef5350"/>
<rect x="973.05" y="383.0" width="2" height="30.3" fill="#26a69a"/>
<rect x="970.35" y="387.4" width="7.4" height="24.5" fill="#26a69a"/>
<rect x="982.85" y="373.1" width="2" height="57.5" fill="#ef5350"/>
<rect x="980.15" y="381.3" width="7.4" height="40.7" fill="#ef5350"/>
<rect x="992.65" y="393.9" width="2" height="49.8" fill="#26a69a"/>
<rect x="989.95" y="400.5" width="7.4" height="18.7" fill="#26a69a"/>
<rect x="1002.45" y="315.3" width="2" height="93.4" fill="#26a69a"/>
<rect x="999.75" y="331.4" width="7.4" height="71.7" fill="#26a69a"/>
<rect x="1012.25" y="317.0" width="2" height="37.6" fill="#ef5350"/>
<rect x="1009.55" y="331.4" width="7.4" height="7.8" fill="#ef5350"/>
<rect x="1022.05" y="303.8" width="2" height="48.3" fill="#26a69a"/>
<rect x="1019.35" y="323.5" width="7.4" height="6.7" fill="#26a69a"/>
<rect x="1031.85" y="310.8" width="2" height="46.0" fill="#ef5350"/>
<rect x="1029.15" y="322.7" width="7.4" height="24.9" fill="#ef5350"/>
<rect x="1041.65" y="340.2" width="2" height="37.9" fill="#ef5350"/>
<rect x="1038.95" y="346.3" width="7.4" height="24.5" fill="#ef5350"/>
<rect x="1051.45" y="333.2" width="2" height="58.6" fill="#26a69a"/>
<rect x="1048.75" y="338.8" width="7.4" height="32.0" fill="#26a69a"/>
<rect x="1061.25" y="325.9" width="2" height="94.7" fill="#ef5350"/>
<rect x="1058.55" y="335.8" width="7.4" height="73.5" fill="#ef5350"/>
<rect x="1071.05" y="373.1" width="2" height="46.1" fill="#26a69a"/>
<rect x="1068.35" y="397.4" width="7.4" height="10.5" fill="#26a69a"/>
<rect x="1080.85" y="383.9" width="2" height="71.7" fill="#26a69a"/>
<rect x="1078.15" y="393.0" width="7.4" height="4.9" fill="#26a69a"/>
<rect x="1090.65" y="356.2" width="2" height="44.6" fill="#26a69a"/>
<rect x="1087.95" y="376.8" width="7.4" height="16.5" fill="#26a69a"/>
<rect x="1100.45" y="340.3" width="2" height="46.9" fill="#26a69a"/>
<rect x="1097.75" y="343.5" width="7.4" height="32.3" fill="#26a69a"/>
<rect x="1110.25" y="333.3" width="2" height="34.3" fill="#26a69a"/>
<rect x="1107.55" y="339.2" width="7.4" height="2.4" fill="#26a69a"/>
<rect x="1120.05" y="329.0" width="2" height="21.8" fill="#26a69a"/>
<rect x="1117.35" y="331.3" width="7.4" height="6.5" fill="#26a69a"/>
<rect x="1129.85" y="315.2" width="2" height="44.8" fill="#ef5350"/>
<rect x="1127.15" y="330.5" width="7.4" height="24.7" fill="#ef5350"/>
<rect x="1139.65" y="321.2" width="2" height="46.3" fill="#26a69a"/>
<rect x="1136.95" y="323.7" width="7.4" height="29.9" fill="#26a69a"/>
<rect x="1149.45" y="309.8" width="2" height="35.9" fill="#ef5350"/>
<rect x="1146.75" y="327.3" width="7.4" height="11.4" fill="#ef5350"/>
<rect x="1159.25" y="307.6" width="2" height="28.8" fill="#26a69a"/>
<rect x="1156.55" y="313.8" width="7.4" height="22.6" fill="#26a69a"/>
<rect x="1169.05" y="280.1" width="2" height="42.5" fill="#26a69a"/>
<rect x="1166.35" y="297.1" width="7.4" height="14.8" fill="#26a69a"/>
<rect x="1178.85" y="294.2" width="2" height="23.8" fill="#ef5350"/>
<rect x="1176.15" y="295.0" width="7.4" height="14.0" fill="#ef5350"/>
<rect x="1188.65" y="305.5" width="2" height="59.9" fill="#ef5350"/>
<rect x="1185.95" y="306.9" width="7.4" height="55.9" fill="#ef5350"/>
<rect x="1198.45" y="345.7" width="2" height="52.9" fill="#ef5350"/>
<rect x="1195.75" y="361.0" width="7.4" height="22.6" fill="#ef5350"/>
<rect x="1208.25" y="381.2" width="2" height="28.3" fill="#ef5350"/>
<rect x="1205.55" y="385.9" width="7.4" height="4.9" fill="#ef5350"/>
<rect x="1218.05" y="384.5" width="2" height="54.3" fill="#ef5350"/>
<rect x="1215.35" y="395.0" width="7.4" height="8.0" fill="#ef5350"/>
<rect x="1227.85" y="369.3" width="2" height="50.1" fill="#26a69a"/>
<rect x="1225.15" y="379.2" width="7.4" height="25.6" fill="#26a69a"/>
<rect x="1237.65" y="367.5" width="2" height="28.9" fill="#26a69a"/>
<rect x="1234.95" y="369.8" width="7.4" height="9.1" fill="#26a69a"/>
<rect x="1247.45" y="353.2" width="2" height="42.6" fill="#ef5350"/>
<rect x="1244.75" y="370.7" width="7.4" height="18.1" fill="#ef5350"/>
<rect x="1257.25" y="383.6" width="2" height="44.2" fill="#26a69a"/>
<rect x="1254.55" y="386.7" width="7.4" height="2.1" fill="#26a69a"/>
<rect x="1267.05" y="371.4" width="2" height="22.7" fill="#26a69a"/>
<rect x="1264.35" y="382.4" width="7.4" height="5.6" fill="#26a69a"/>
<rect x="1276.85" y="356.2" width="2" height="44.5" fill="#26a69a"/>
<rect x="1274.15" y="372.4" width="7.4" height="10.9" fill="#26a69a"/>
<rect x="1286.65" y="370.7" width="2" height="39.3" fill="#ef5350"/>
<rect x="1283.95" y="370.7" width="7.4" height="24.8" fill="#ef5350"/>
<rect x="1296.45" y="387.6" width="2" height="60.2" fill="#ef5350"/>
<rect x="1293.75" y="395.0" width="7.4" height="49.7" fill="#ef5350"/>
<rect x="1306.25" y="437.0" width="2" height="124.1" fill="#ef5350"/>
<rect x="1303.55" y="448.1" width="7.4" height="75.0" fill="#ef5350"/>
<rect x="1316.05" y="478.6" width="2" height="63.4" fill="#26a69a"/>
<rect x="1313.35" y="494.7" width="7.4" height="26.7" fill="#26a69a"/>
<rect x="1325.85" y="490.8" width="2" height="74.0" fill="#ef5350"/>
<rect x="1323.15" y="495.5" width="7.4" height="29.0" fill="#ef5350"/>
<rect x="1335.65" y="503.0" width="2" height="40.6" fill="#26a69a"/>
<rect x="1332.95" y="516.7" width="7.4" height="9.4" fill="#26a69a"/>
<rect x="1345.45" y="474.2" width="2" height="41.4" fill="#26a69a"/>
<rect x="1342.75" y="494.0" width="7.4" height="21.6" fill="#26a69a"/>
<rect x="1355.25" y="468.1" width="2" height="39.8" fill="#26a69a"/>
<rect x="1352.55" y="489.4" width="7.4" height="2.0" fill="#26a69a"/>
<rect x="1365.05" y="489.4" width="2" height="66.4" fill="#ef5350"/>
<rect x="1362.35" y="490.8" width="7.4" height="48.1" fill="#ef5350"/>
<rect x="1374.85" y="518.3" width="2" height="52.0" fill="#26a69a"/>
<rect x="1372.15" y="525.8" width="7.4" height="15.4" fill="#26a69a"/>
<rect x="1384.65" y="497.8" width="2" height="55.1" fill="#26a69a"/>
<rect x="1381.95" y="503.9" width="7.4" height="25.0" fill="#26a69a"/>
<rect x="1394.45" y="472.4" width="2" height="31.5" fill="#26a69a"/>
<rect x="1391.75" y="479.4" width="7.4" height="24.5" fill="#26a69a"/>
<rect x="1404.25" y="445.0" width="2" height="37.1" fill="#26a69a"/>
<rect x="1401.55" y="470.3" width="7.4" height="6.5" fill="#26a69a"/>
<rect x="1414.05" y="465.1" width="2" height="141.6" fill="#ef5350"/>
<rect x="1411.35" y="469.5" width="7.4" height="120.2" fill="#ef5350"/>
<rect x="1423.85" y="567.4" width="2" height="187.0" fill="#ef5350"/>
<rect x="1421.15" y="589.5" width="7.4" height="72.3" fill="#ef5350"/>
<rect x="1433.65" y="642.0" width="2" height="69.6" fill="#ef5350"/>
<rect x="1430.95" y="664.1" width="7.4" height="11.7" fill="#ef5350"/>
<rect x="1443.45" y="638.2" width="2" height="52.1" fill="#26a69a"/>
<rect x="1440.75" y="676.3" width="7.4" height="2.4" fill="#26a69a"/>
<rect x="1453.25" y="524.9" width="2" height="149.5" fill="#26a69a"/>
<rect x="1450.55" y="649.5" width="7.4" height="23.3" fill="#26a69a"/>
<rect x="1463.05" y="619.3" width="2" height="86.2" fill="#26a69a"/>
<rect x="1460.35" y="645.7" width="7.4" height="2.6" fill="#26a69a"/>
<rect x="1472.85" y="610.2" width="2" height="69.4" fill="#26a69a"/>
<rect x="1470.15" y="630.0" width="7.4" height="15.5" fill="#26a69a"/>
<rect x="1482.65" y="614.1" width="2" height="54.3" fill="#ef5350"/>
<rect x="1479.95" y="630.0" width="7.4" height="26.9" fill="#ef5350"/>
<rect x="1492.45" y="592.7" width="2" height="64.2" fill="#26a69a"/>
<rect x="1489.75" y="608.5" width="7.4" height="48.4" fill="#26a69a"/>
<rect x="1502.25" y="582.7" width="2" height="39.2" fill="#26a69a"/>
<rect x="1499.55" y="598.0" width="7.4" height="10.8" fill="#26a69a"/>
<rect x="1512.05" y="582.0" width="2" height="35.9" fill="#ef5350"/>
<rect x="1509.35" y="591.9" width="7.4" height="22.3" fill="#ef5350"/>
<rect x="1521.85" y="563.0" width="2" height="54.2" fill="#26a69a"/>
<rect x="1519.15" y="576.7" width="7.4" height="35.2" fill="#26a69a"/>
<rect x="1531.65" y="540.1" width="2" height="46.1" fill="#26a69a"/>
<rect x="1528.95" y="543.2" width="7.4" height="33.7" fill="#26a69a"/>
<rect x="1541.45" y="496.1" width="2" height="53.5" fill="#26a69a"/>
<rect x="1538.75" y="499.1" width="7.4" height="44.6" fill="#26a69a"/>
<rect x="1551.25" y="471.8" width="2" height="42.3" fill="#ef5350"/>
<rect x="1548.55" y="497.5" width="7.4" height="10.4" fill="#ef5350"/>
<rect x="1561.05" y="490.7" width="2" height="30.9" fill="#ef5350"/>
<rect x="1558.35" y="505.9" width="7.4" height="4.2" fill="#ef5350"/>
<rect x="1570.85" y="497.7" width="2" height="32.3" fill="#ef5350"/>
<rect x="1568.15" y="509.1" width="7.4" height="13.9" fill="#ef5350"/>
<rect x="1580.65" y="509.9" width="2" height="33.9" fill="#26a69a"/>
<rect x="1577.95" y="522.1" width="7.4" height="3.4" fill="#26a69a"/>
<rect x="1590.45" y="481.7" width="2" height="37.6" fill="#26a69a"/>
<rect x="1587.75" y="490.1" width="7.4" height="29.2" fill="#26a69a"/>
<rect x="1600.25" y="454.3" width="2" height="40.7" fill="#26a69a"/>
<rect x="1597.55" y="479.3" width="7.4" height="11.2" fill="#26a69a"/>
<rect x="1610.05" y="474.1" width="2" height="21.6" fill="#ef5350"/>
<rect x="1607.35" y="479.3" width="7.4" height="4.4" fill="#ef5350"/>
<rect x="1619.85" y="467.1" width="2" height="18.7" fill="#26a69a"/>
<rect x="1617.15" y="473.2" width="7.4" height="9.6" fill="#26a69a"/>
<rect x="1629.65" y="463.6" width="2" height="37.4" fill="#ef5350"/>
<rect x="1626.95" y="472.7" width="7.4" height="21.5" fill="#ef5350"/>
<rect x="1639.45" y="483.5" width="2" height="39.9" fill="#26a69a"/>
<rect x="1636.75" y="487.0" width="7.4" height="7.9" fill="#26a69a"/>
<rect x="1649.25" y="479.3" width="2" height="71.2" fill="#ef5350"/>
<rect x="1646.55" y="485.4" width="7.4" height="48.4" fill="#ef5350"/>
<rect x="1659.05" y="513.7" width="2" height="34.7" fill="#26a69a"/>
<rect x="1656.35" y="516.7" width="7.4" height="18.0" fill="#26a69a"/>
<rect x="1668.85" y="498.5" width="2" height="32.2" fill="#26a69a"/>
<rect x="1666.15" y="504.5" width="7.4" height="11.5" fill="#26a69a"/>
<rect x="1678.65" y="488.0" width="2" height="31.5" fill="#26a69a"/>
<rect x="1675.95" y="494.0" width="7.4" height="7.0" fill="#26a69a"/>
<rect x="1688.45" y="398.4" width="2" height="93.5" fill="#26a69a"/>
<rect x="1685.75" y="415.0" width="7.4" height="76.9" fill="#26a69a"/>
<rect x="1698.25" y="378.2" width="2" height="39.4" fill="#26a69a"/>
<rect x="1695.55" y="379.6" width="7.4" height="34.1" fill="#26a69a"/>
<rect x="1708.05" y="313.9" width="2" height="82.6" fill="#26a69a"/>
<rect x="1705.35" y="348.1" width="7.4" height="31.9" fill="#26a69a"/>
<rect x="1717.85" y="337.1" width="2" height="32.7" fill="#26a69a"/>
<rect x="1715.15" y="344.7" width="7.4" height="2.0" fill="#26a69a"/>
<rect x="1727.65" y="332.8" width="2" height="52.8" fill="#ef5350"/>
<rect x="1724.95" y="345.9" width="7.4" height="26.7" fill="#ef5350"/>
<rect x="1737.45" y="335.9" width="2" height="47.6" fill="#26a69a"/>
<rect x="1734.75" y="345.0" width="7.4" height="30.6" fill="#26a69a"/>
<rect x="1747.25" y="302.2" width="2" height="56.4" fill="#26a69a"/>
<rect x="1744.55" y="304.3" width="7.4" height="37.2" fill="#26a69a"/>
<rect x="1757.05" y="304.8" width="2" height="28.5" fill="#ef5350"/>
<rect x="1754.35" y="304.8" width="7.4" height="23.9" fill="#ef5350"/>
<rect x="1766.85" y="292.6" width="2" height="40.2" fill="#26a69a"/>
<rect x="1764.15" y="292.6" width="7.4" height="35.3" fill="#26a69a"/>
<rect x="1776.65" y="291.3" width="2" height="33.1" fill="#ef5350"/>
<rect x="1773.95" y="292.6" width="7.4" height="21.5" fill="#ef5350"/>
<rect x="1786.45" y="287.0" width="2" height="65.3" fill="#ef5350"/>
<rect x="1783.75" y="314.1" width="7.4" height="22.7" fill="#ef5350"/>
<rect x="1796.25" y="295.5" width="2" height="69.6" fill="#ef5350"/>
<rect x="1793.55" y="337.5" width="7.4" height="16.2" fill="#ef5350"/>
<rect x="1806.05" y="347.1" width="2" height="58.3" fill="#ef5350"/>
<rect x="1803.35" y="351.1" width="7.4" height="6.5" fill="#ef5350"/>
<rect x="1815.85" y="298.3" width="2" height="72.9" fill="#26a69a"/>
<rect x="1813.15" y="304.3" width="7.4" height="53.8" fill="#26a69a"/>
<rect x="1825.65" y="222.6" width="2" height="97.1" fill="#26a69a"/>
<rect x="1822.95" y="244.1" width="7.4" height="61.0" fill="#26a69a"/>
<rect x="1835.45" y="186.0" width="2" height="66.7" fill="#26a69a"/>
<rect x="1832.75" y="221.8" width="7.4" height="21.8" fill="#26a69a"/>
<rect x="1845.25" y="189.2" width="2" height="37.8" fill="#ef5350"/>
<rect x="1842.55" y="215.6" width="7.4" height="2.0" fill="#ef5350"/>
<rect x="1855.05" y="202.0" width="2" height="37.9" fill="#26a69a"/>
<rect x="1852.35" y="212.1" width="7.4" height="6.5" fill="#26a69a"/>
<rect x="1864.85" y="165.0" width="2" height="44.6" fill="#26a69a"/>
<rect x="1862.15" y="194.7" width="7.4" height="14.9" fill="#26a69a"/>
</g>
<g stroke="#60636e" stroke-width="2" fill="none">
<rect x="9.9" y="66.1" width="2028.1" height="1022.4999999999999"/>
</g>
<g stroke="#676a76" stroke-width="2" fill="none">
<line x1="1935" x2="1935" y1="66.1" y2="1088.6"/>
<line x1="9.9" x2="2038.0" y1="1046.0" y2="1046.0"/>
<line x1="2038.0" x2="2038.0" y1="67.1" y2="1087.6"/>
</g>
<g stroke="#60636e" stroke-width="1.7" fill="none">
<line x1="1935" x2="1942" y1="80.2" y2="80.2"/>
<line x1="1935" x2="1942" y1="171.8" y2="171.8"/>
<line x1="1935" x2="1942" y1="267.3" y2="267.3"/>
<line x1="1935" x2="1942" y1="316.8" y2="316.8"/>
<line x1="1935" x2="1942" y1="379.8" y2="379.8"/>
<line x1="1935" x2="1942" y1="444.5" y2="444.5"/>
<line x1="1935" x2="1942" y1="498.6" y2="498.6"/>
<line x1="1935" x2="1942" y1="552.5" y2="552.5"/>
<line x1="1935" x2="1942" y1="608.5" y2="608.5"/>
<line x1="1935" x2="1942" y1="665.5" y2="665.5"/>
<line x1="1935" x2="1942" y1="724.7" y2="724.7"/>
<line x1="1935" x2="1942" y1="784.7" y2="784.7"/>
<line x1="1935" x2="1942" y1="831.1" y2="831.1"/>
<line x1="1935" x2="1942" y1="878.5" y2="878.5"/>
<line x1="1935" x2="1942" y1="926.7" y2="926.7"/>
<line x1="1935" x2="1942" y1="972.3" y2="972.3"/>
<line x1="1935" x2="1942" y1="1019.8" y2="1019.8"/>
<line x1="23.55" x2="23.55" y1="1046.0" y2="1052.9"/>
<line x1="199.95" x2="199.95" y1="1046.0" y2="1052.9"/>
<line x1="435.15" x2="435.15" y1="1046.0" y2="1052.9"/>
<line x1="611.55" x2="611.55" y1="1046.0" y2="1052.9"/>
<line x1="846.75" x2="846.75" y1="1046.0" y2="1052.9"/>
<line x1="1023.15" x2="1023.15" y1="1046.0" y2="1052.9"/>
<line x1="1258.35" x2="1258.35" y1="1046.0" y2="1052.9"/>
<line x1="1434.75" x2="1434.75" y1="1046.0" y2="1052.9"/>
<line x1="1669.95" x2="1669.95" y1="1046.0" y2="1052.9"/>
<line x1="1846.35" x2="1846.35" y1="1046.0" y2="1052.9"/>
</g>
<text x="1949.6" y="86.7" font-size="19.2" fill="#50535e" textLength="63.8" lengthAdjust="spacingAndGlyphs" stroke="#50535e" stroke-width="0.25">2040.00</text>
<text x="1949.6" y="178.3" font-size="19.2" fill="#50535e" textLength="63.8" lengthAdjust="spacingAndGlyphs" stroke="#50535e" stroke-width="0.25">1960.00</text>
<text x="1949.6" y="273.8" font-size="19.2" fill="#50535e" textLength="63.8" lengthAdjust="spacingAndGlyphs" stroke="#50535e" stroke-width="0.25">1880.00</text>
<text x="1949.6" y="323.3" font-size="19.2" fill="#50535e" textLength="63.8" lengthAdjust="spacingAndGlyphs" stroke="#50535e" stroke-width="0.25">1840.00</text>
<text x="1949.6" y="386.3" font-size="19.2" fill="#50535e" textLength="63.8" lengthAdjust="spacingAndGlyphs" stroke="#50535e" stroke-width="0.25">1790.00</text>
<text x="1949.6" y="451.0" font-size="19.2" fill="#50535e" textLength="63.8" lengthAdjust="spacingAndGlyphs" stroke="#50535e" stroke-width="0.25">1740.00</text>
<text x="1949.6" y="505.1" font-size="19.2" fill="#50535e" textLength="63.8" lengthAdjust="spacingAndGlyphs" stroke="#50535e" stroke-width="0.25">1700.00</text>
<text x="1949.6" y="559.0" font-size="19.2" fill="#50535e" textLength="63.8" lengthAdjust="spacingAndGlyphs" stroke="#50535e" stroke-width="0.25">1660.00</text>
<text x="1949.6" y="615.0" font-size="19.2" fill="#50535e" textLength="63.8" lengthAdjust="spacingAndGlyphs" stroke="#50535e" stroke-width="0.25">1620.00</text>
<text x="1949.6" y="672.0" font-size="19.2" fill="#50535e" textLength="63.8" lengthAdjust="spacingAndGlyphs" stroke="#50535e" stroke-width="0.25">1580.00</text>
<text x="1949.6" y="731.2" font-size="19.2" fill="#50535e" textLength="63.8" lengthAdjust="spacingAndGlyphs" stroke="#50535e" stroke-width="0.25">1540.00</text>
<text x="1949.6" y="791.2" font-size="19.2" fill="#50535e" textLength="63.8" lengthAdjust="spacingAndGlyphs" stroke="#50535e" stroke-width="0.25">1500.00</text>
<text x="1949.6" y="837.6" font-size="19.2" fill="#50535e" textLength="63.8" lengthAdjust="spacingAndGlyphs" stroke="#50535e" stroke-width="0.25">1470.00</text>
<text x="1949.6" y="885.0" font-size="19.2" fill="#50535e" textLength="63.8" lengthAdjust="spacingAndGlyphs" stroke="#50535e" stroke-width="0.25">1440.00</text>
<text x="1949.6" y="933.2" font-size="19.2" fill="#50535e" textLength="63.8" lengthAdjust="spacingAndGlyphs" stroke="#50535e" stroke-width="0.25">1410.00</text>
<text x="1949.6" y="978.8" font-size="19.2" fill="#50535e" textLength="63.8" lengthAdjust="spacingAndGlyphs" stroke="#50535e" stroke-width="0.25">1382.00</text>
<text x="1949.6" y="1026.3" font-size="19.2" fill="#50535e" textLength="63.8" lengthAdjust="spacingAndGlyphs" stroke="#50535e" stroke-width="0.25">1354.00</text>
<g clip-path="url(#tclip)">
<text x="7.8" y="1073.6" font-size="19.2" fill="#50535e" font-weight="bold" textLength="31.5" lengthAdjust="spacingAndGlyphs">Mar</text>
<text x="194.9" y="1073.6" font-size="19.2" fill="#50535e" textLength="10.0" lengthAdjust="spacingAndGlyphs" stroke="#50535e" stroke-width="0.25">4</text>
<text x="430.2" y="1073.6" font-size="19.2" fill="#50535e" textLength="10.0" lengthAdjust="spacingAndGlyphs" stroke="#50535e" stroke-width="0.25">8</text>
<text x="601.9" y="1073.6" font-size="19.2" fill="#50535e" textLength="19.4" lengthAdjust="spacingAndGlyphs" stroke="#50535e" stroke-width="0.25">11</text>
<text x="837.1" y="1073.6" font-size="19.2" fill="#50535e" textLength="19.4" lengthAdjust="spacingAndGlyphs" stroke="#50535e" stroke-width="0.25">15</text>
<text x="1013.5" y="1073.6" font-size="19.2" fill="#50535e" textLength="19.4" lengthAdjust="spacingAndGlyphs" stroke="#50535e" stroke-width="0.25">18</text>
<text x="1248.7" y="1073.6" font-size="19.2" fill="#50535e" textLength="19.4" lengthAdjust="spacingAndGlyphs" stroke="#50535e" stroke-width="0.25">22</text>
<text x="1425.0" y="1073.6" font-size="19.2" fill="#50535e" textLength="19.4" lengthAdjust="spacingAndGlyphs" stroke="#50535e" stroke-width="0.25">25</text>
<text x="1660.2" y="1073.6" font-size="19.2" fill="#50535e" textLength="19.4" lengthAdjust="spacingAndGlyphs" stroke="#50535e" stroke-width="0.25">29</text>
<text x="1831.2" y="1073.6" font-size="19.2" fill="#50535e" font-weight="bold" textLength="30.4" lengthAdjust="spacingAndGlyphs">Apr</text>
</g>
<rect x="1963.5" y="77.5" width="44.5" height="26" rx="5" fill="#fff" stroke="#dcdfe8" stroke-width="1.2"/>
<text x="1968.6" y="96.1" font-size="18.6" fill="#50535e" textLength="33.2" lengthAdjust="spacingAndGlyphs" stroke="#50535e" stroke-width="0.2">USD</text>
<path d="M1936 181.3 H2026.5 a3.2 3.2 0 0 1 3.2 3.2 V225 a3.2 3.2 0 0 1 -3.2 3.2 H1936 Z" fill="#26a69a"/>
<path d="M1932.5 181.8 H1854 a3.2 3.2 0 0 0 -3.2 3.2 V204 a3.2 3.2 0 0 0 3.2 3.2 H1932.5 Z" fill="#26a69a"/>
<line x1="1935" x2="1942" y1="194.3" y2="194.3" stroke="#fff" stroke-width="1.6"/>
<text x="1949.6" y="201.2" font-size="19.2" fill="#fff" textLength="63.8" lengthAdjust="spacingAndGlyphs" stroke="#fff" stroke-width="0.2">1940.70</text>
<text x="1948.8" y="222.8" font-size="19.2" fill="#d8f0ec" textLength="71.5" lengthAdjust="spacingAndGlyphs" stroke="#d8f0ec" stroke-width="0.2">01:57:27</text>
<text x="1859.8" y="201.0" font-size="18.6" fill="#fff" textLength="64" lengthAdjust="spacingAndGlyphs" stroke="#fff" stroke-width="0.2">ETHUSD</text>
<text x="22.8" y="97.7" font-size="18.5" fill="#555863" font-weight="bold" textLength="86.6" lengthAdjust="spacing">Ethereum</text>
<text x="116.0" y="97.7" font-size="18.5" fill="#555863" font-weight="bold" textLength="11.6" lengthAdjust="spacing">/</text>
<text x="127.7" y="97.7" font-size="18.5" fill="#555863" font-weight="bold" textLength="35.4" lengthAdjust="spacing">U.S.</text>
<text x="166.4" y="97.7" font-size="18.5" fill="#555863" font-weight="bold" textLength="60.1" lengthAdjust="spacing">Dollar,</text>
<text x="229.7" y="97.7" font-size="18.5" fill="#555863" font-weight="bold" textLength="27.9" lengthAdjust="spacing">4h,</text>
<text x="262.0" y="97.7" font-size="18.5" fill="#555863" font-weight="bold" textLength="92.3" lengthAdjust="spacing">BITSTAMP</text>
<text x="22.8" y="123.5" font-size="18.2" fill="#555863" textLength="28.4" lengthAdjust="spacing">Vol</text>
<text x="8.8" y="25.3" font-size="19.6" fill="#1c1e26" font-weight="bold" textLength="92.0" lengthAdjust="spacing">samslav84</text>
<text x="105.9" y="25.3" font-size="20" fill="#1c1e26" textLength="84.0" lengthAdjust="spacing">published</text>
<text x="194.6" y="25.3" font-size="20" fill="#1c1e26" textLength="23.3" lengthAdjust="spacing">on</text>
<text x="221.4" y="25.3" font-size="20" fill="#1c1e26" textLength="156.5" lengthAdjust="spacing">TradingView.com,</text>
<text x="382.6" y="25.3" font-size="20" fill="#1c1e26" textLength="41.1" lengthAdjust="spacing">April</text>
<text x="426.6" y="25.3" font-size="20" fill="#1c1e26" textLength="27.6" lengthAdjust="spacing">01,</text>
<text x="458.8" y="25.3" font-size="20" fill="#1c1e26" textLength="42.0" lengthAdjust="spacing">2021</text>
<text x="506.1" y="25.3" font-size="20" fill="#1c1e26" textLength="75.5" lengthAdjust="spacing">10:02:36</text>
<text x="586.2" y="25.3" font-size="20" fill="#1c1e26" textLength="36.6" lengthAdjust="spacing">UTC</text>
<text x="8.7" y="50.9" font-size="19.4" fill="#1c1e26" font-weight="bold" textLength="175.9" lengthAdjust="spacing">BITSTAMP:ETHUSD,</text>
<text x="188.1" y="50.9" font-size="19.4" fill="#1c1e26" font-weight="bold" textLength="32.3" lengthAdjust="spacing">240</text>
<text x="227.8" y="50.9" font-size="20" fill="#1c1e26" textLength="69.1" lengthAdjust="spacing">1940.70</text>
<polygon points="301.6,50.6 317.1,50.6 309.35,36.3" fill="#26a69a"/>
<text x="323.5" y="50.9" font-size="20" fill="#1c1e26" textLength="57.6" lengthAdjust="spacing">+22.79</text>
<text x="385.8" y="50.9" font-size="20" fill="#1c1e26" textLength="75.5" lengthAdjust="spacing">(+1.19%)</text>
<text x="466.5" y="50.9" font-size="19.4" fill="#1c1e26" font-weight="bold" textLength="21.9" lengthAdjust="spacing">O:</text>
<text x="488.9" y="50.9" font-size="20" fill="#26a69a" textLength="69.5" lengthAdjust="spacing">1928.27</text>
<text x="564.5" y="50.9" font-size="19.4" fill="#1c1e26" font-weight="bold" textLength="20.2" lengthAdjust="spacing">H:</text>
<text x="584.9" y="50.9" font-size="20" fill="#26a69a" textLength="70.6" lengthAdjust="spacing">1966.00</text>
<text x="660.9" y="50.9" font-size="19.4" fill="#1c1e26" font-weight="bold" textLength="16.1" lengthAdjust="spacing">L:</text>
<text x="676.8" y="50.9" font-size="20" fill="#26a69a" textLength="70.2" lengthAdjust="spacing">1928.27</text>
<text x="751.8" y="50.9" font-size="19.4" fill="#1c1e26" font-weight="bold" textLength="19.3" lengthAdjust="spacing">C:</text>
<text x="771.4" y="50.9" font-size="20" fill="#26a69a" textLength="70.1" lengthAdjust="spacing">1940.70</text>
<g transform="translate(8.8,1104.8)" fill="#2196f3"><circle cx="7" cy="16" r="7"/><circle cx="17.1" cy="9.2" r="9.2"/><circle cx="31.4" cy="14.7" r="8.4"/><rect x="7" y="11" width="24.4" height="12.1"/><path d="M1.2 20.6 L15.1 8.8 L24.6 17.8 L35 7.6" fill="none" stroke="#fff" stroke-width="1.3" stroke-linecap="round" stroke-linejoin="round"/><circle cx="15.1" cy="8.8" r="2.6" fill="#fff"/><circle cx="24.6" cy="17.8" r="2.6" fill="#fff"/></g>
<text x="51.2" y="1122.4" font-size="18.3" fill="#262a38" textLength="107.5" lengthAdjust="spacing">TradingView</text>
</svg>
</body></html>
